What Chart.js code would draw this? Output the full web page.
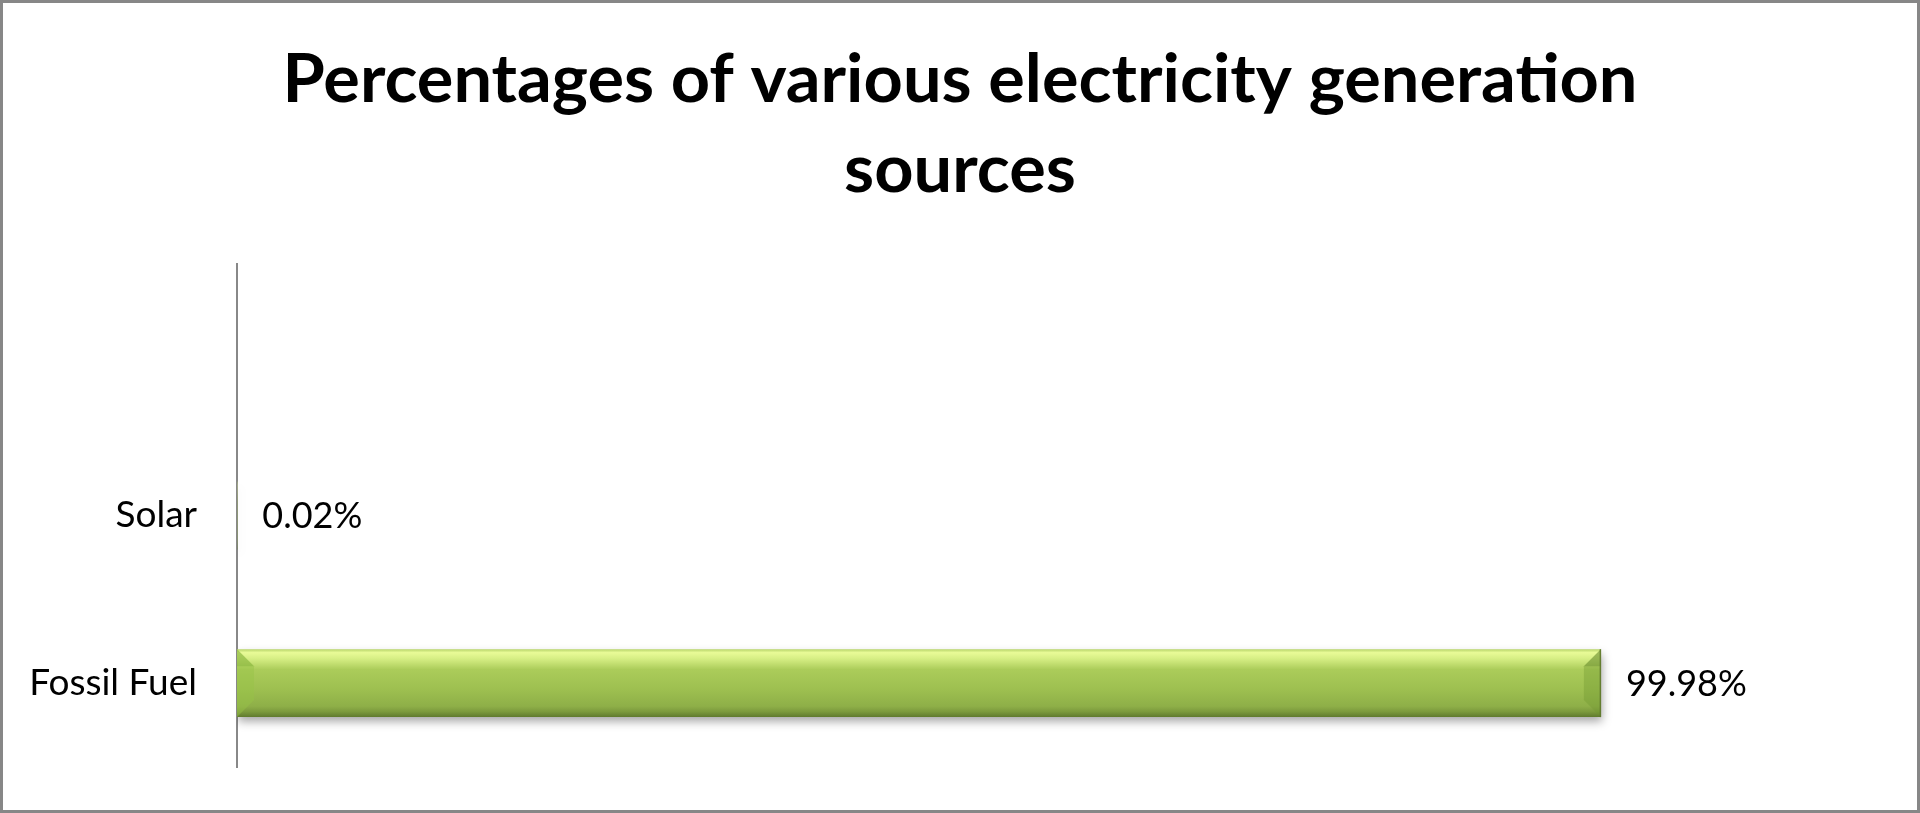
<!DOCTYPE html>
<html>
<head>
<meta charset="utf-8">
<script src="https://cdn.jsdelivr.net/npm/chart.js@4.4.1/dist/chart.umd.min.js"></script>
<style>
  html, body { margin: 0; padding: 0; background: #fff; }
  #wrap { width: 1920px; height: 813px; position: relative; }
  canvas { display: block; }
</style>
</head>
<body>
<div id="wrap"><canvas id="c" width="1920" height="813"></canvas></div>
<script>
// ---- data ----
const titleLines = ['Percentages of various electricity generation', 'sources'];
const categories = ['', 'Solar', 'Fossil Fuel'];
const shares = [null, 0.02, 99.98];
const valueLabels = ['', '0.02%', '99.98%'];
const axisMin = 0;
const axisMax = 120;

const FONT = "Lato, 'Open Sans', 'Noto Sans', sans-serif";
const BAR_PCT = 0.405;

function barGradient(c) {
  const chart = c.chart;
  const ys = chart.scales && chart.scales.y;
  if (!ys || c.type !== 'data' || !isFinite(ys.getPixelForValue(0))) return '#9bbb59';
  const yc = ys.getPixelForValue(c.dataIndex);
  const slot = Math.abs(ys.getPixelForValue(1) - ys.getPixelForValue(0));
  const h = slot * BAR_PCT;
  const top = yc - h / 2, bot = yc + h / 2;
  const g = chart.ctx.createLinearGradient(0, top, 0, bot);
  g.addColorStop(0.00, '#b6d468');
  g.addColorStop(0.05, '#e9fb97');
  g.addColorStop(0.14, '#d6ee84');
  g.addColorStop(0.30, '#abcc5a');
  g.addColorStop(0.60, '#9dbf50');
  g.addColorStop(0.84, '#8eaf48');
  g.addColorStop(0.92, '#7c9a3d');
  g.addColorStop(1.00, '#5f7a2e');
  return g;
}

const frame = {
  id: 'frame',
  beforeDraw(chart) {
    const ctx = chart.ctx;
    ctx.save();
    ctx.fillStyle = '#ffffff';
    ctx.fillRect(0, 0, chart.width, chart.height);
    ctx.restore();
  },
  afterDraw(chart) {
    const ctx = chart.ctx;
    ctx.save();
    ctx.strokeStyle = '#878787';
    ctx.lineWidth = 3;
    ctx.strokeRect(1.5, 1.5, chart.width - 3, chart.height - 3);
    // title
    ctx.fillStyle = '#000';
    ctx.font = "bold 66px " + FONT;
    ctx.textBaseline = 'alphabetic';
    ctx.textAlign = 'center';
    const w1 = ctx.measureText(titleLines[0]).width;
    const sx = 1355 / w1;
    const cx = 960;
    const baselines = [102, 192];
    titleLines.forEach((t, i) => {
      ctx.save();
      ctx.translate(cx, baselines[i]);
      ctx.scale(sx, 1);
      ctx.fillText(t, 0, 0);
      ctx.restore();
    });
    ctx.restore();
  }
};

const barFx = {
  id: 'barFx',
  beforeDatasetsDraw(chart) {
    const ctx = chart.ctx;
    ctx.save();
    ctx.shadowColor = 'rgba(0,0,0,0.35)';
    ctx.shadowBlur = 9;
    ctx.shadowOffsetY = 5;
    ctx.shadowOffsetX = 1;
  },
  afterDatasetsDraw(chart) {
    const ctx = chart.ctx;
    ctx.restore();
    const meta = chart.getDatasetMeta(0);
    meta.data.forEach((el, i) => {
      const v = shares[i];
      if (v === null || v === undefined) return;
      const x0 = Math.min(el.x, el.base), x1 = Math.max(el.x, el.base);
      const top = el.y - el.height / 2, bot = el.y + el.height / 2;
      const len = x1 - x0;
      if (len > 40) {
        const b = Math.min(17, el.height / 2 - 4);
        ctx.save();
        // left bevel
        ctx.beginPath();
        ctx.moveTo(x0, top); ctx.lineTo(x0 + b, top + b); ctx.lineTo(x0 + b, bot - b); ctx.lineTo(x0, bot); ctx.closePath();
        ctx.fillStyle = 'rgba(150,195,70,0.45)';
        ctx.fill();
        ctx.beginPath();
        ctx.moveTo(x0, top); ctx.lineTo(x0 + b, top + b); ctx.lineTo(x0, top + b); ctx.closePath();
        ctx.fillStyle = 'rgba(120,165,50,0.35)';
        ctx.fill();
        // right bevel
        ctx.beginPath();
        ctx.moveTo(x1, top); ctx.lineTo(x1 - b, top + b); ctx.lineTo(x1 - b, bot - b); ctx.lineTo(x1, bot); ctx.closePath();
        ctx.fillStyle = 'rgba(110,150,45,0.35)';
        ctx.fill();
        ctx.beginPath();
        ctx.moveTo(x1, top); ctx.lineTo(x1 - b, top + b); ctx.lineTo(x1, top + b);
        ctx.closePath();
        ctx.fillStyle = 'rgba(95,130,40,0.35)';
        ctx.fill();
        // outline edges
        ctx.strokeStyle = 'rgba(95,120,45,0.9)';
        ctx.lineWidth = 1.5;
        ctx.beginPath();
        ctx.moveTo(x1 - 0.5, top); ctx.lineTo(x1 - 0.5, bot);
        ctx.stroke();
        ctx.restore();
      }
      // value label
      ctx.save();
      ctx.fillStyle = '#000';
      ctx.font = "36px " + FONT;
      ctx.textAlign = 'left';
      ctx.textBaseline = 'middle';
      ctx.fillText(valueLabels[i], x1 + 25, el.y + 1);
      ctx.restore();
    });
  }
};

new Chart(document.getElementById('c'), {
  type: 'bar',
  data: {
    labels: categories,
    datasets: [{
      data: shares,
      backgroundColor: barGradient,
      borderWidth: 0,
      categoryPercentage: 1.0,
      barPercentage: BAR_PCT
    }]
  },
  options: {
    indexAxis: 'y',
    responsive: false,
    animation: false,
    devicePixelRatio: 1,
    layout: { padding: { top: 264, bottom: 46, left: 0, right: 46 } },
    plugins: {
      legend: { display: false },
      title: { display: false },
      tooltip: { enabled: false }
    },
    scales: {
      x: {
        display: false,
        min: axisMin,
        max: axisMax
      },
      y: {
        grid: { display: false, drawTicks: false },
        border: { display: true, color: '#888888', width: 2 },
        ticks: {
          color: '#000',
          padding: 40,
          font: { family: FONT, size: 37 }
        },
        afterFit(scale) {
          scale.width = 237;
          scale.paddingTop = 0;
          scale.paddingBottom = 0;
        }
      }
    }
  },
  plugins: [frame, barFx]
});
</script>
</body>
</html>
